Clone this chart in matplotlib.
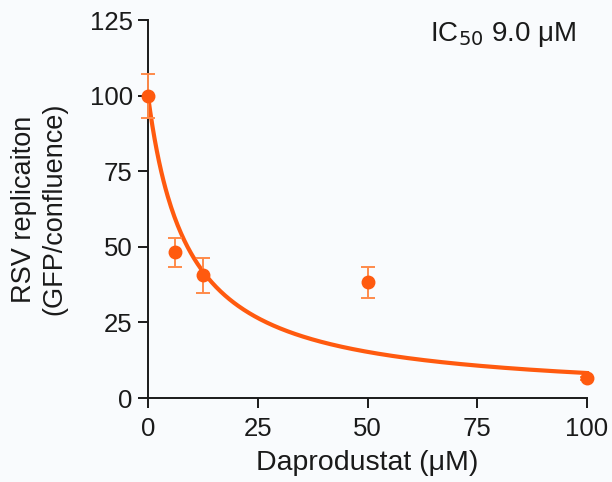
import numpy as np
import matplotlib
matplotlib.use("Agg")
import matplotlib.pyplot as plt

plt.rcParams['font.family'] = ['Liberation Sans', 'DejaVu Sans']

conc = [0, 6.25, 12.5, 50, 100]
replication = [100, 48.3, 40.7, 38.4, 6.6]
err_low = [7.4, 5.0, 6.0, 5.3, 0.5]
err_high = [7.1, 4.6, 5.6, 4.9, 0.5]
ic50 = 9.0
xticks = [0, 25, 50, 75, 100]
yticks = [0, 25, 50, 75, 100, 125]

bg = '#f9fbfd'
orange = '#ff5a0f'
err_col = '#ff8a4a'
txt = '#1a1a1a'

fig = plt.figure(figsize=(6.12, 4.82), dpi=100, facecolor=bg)
ax = fig.add_axes([148/612, 1-398/482, (587-148)/612, (398-20)/482], facecolor=bg)

xc = np.linspace(0, 100, 400)
ax.plot(xc, 100/(1+xc/ic50), color=orange, lw=3, zorder=2, clip_on=False)
ax.errorbar(conc, replication, yerr=[err_low, err_high], fmt='o', color=orange,
            ecolor=err_col, elinewidth=1.4, capsize=5, capthick=1.4, ms=9,
            zorder=3, clip_on=False)

ax.set_xlim(0, 100)
ax.set_ylim(0, 125)
ax.set_xticks(xticks)
ax.set_yticks(yticks)
for s in ['top', 'right']:
    ax.spines[s].set_visible(False)
for s in ['left', 'bottom']:
    ax.spines[s].set_linewidth(1.4)
    ax.spines[s].set_color(txt)
ax.tick_params(direction='out', length=7, width=1.4, labelsize=18.5, colors=txt, pad=4)
ax.tick_params(axis='x', pad=7)
ax.set_xlabel('Daprodustat (μM)', fontsize=20.5, color=txt, labelpad=6)
ax.set_ylabel('RSV replicaiton\n(GFP/confluence)', fontsize=19.5, color=txt, labelpad=16, linespacing=1.2)
ax.text(0.975, 1.0, r'IC$_{50}$ 9.0 μM', transform=ax.transAxes, ha='right', va='top',
        fontsize=20, color=txt, math_fontfamily='custom')
fig.savefig('out.png', dpi=100, facecolor=bg)
